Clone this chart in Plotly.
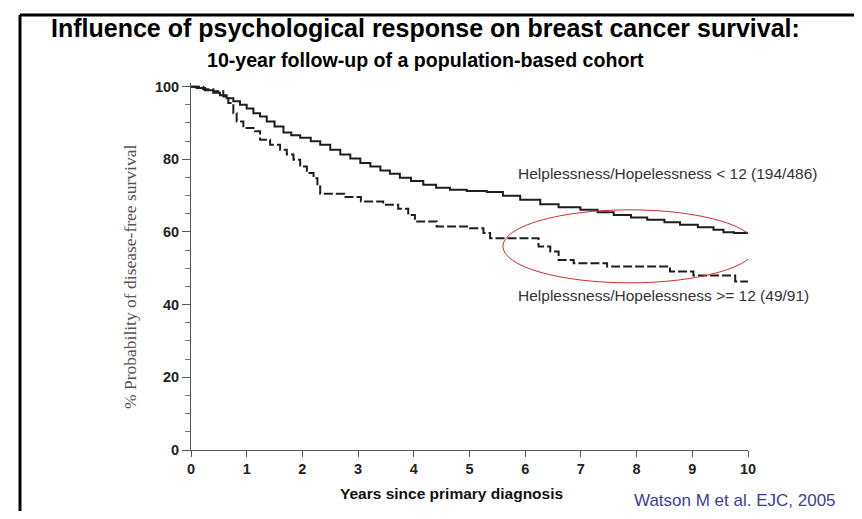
import plotly.graph_objects as go

# ---- data ----
low_years = [0, 0.1, 0.25, 0.40, 0.52, 0.64, 0.76, 0.88, 1.0, 1.12, 1.24, 1.36, 1.50, 1.66, 1.80,
             1.96, 2.15, 2.32, 2.50, 2.68, 2.86, 3.04, 3.22, 3.40, 3.57, 3.75, 3.95, 4.17, 4.40,
             4.65, 4.95, 5.31, 5.60, 5.91, 6.27, 6.60, 6.99, 7.30, 7.59, 7.90, 8.19, 8.50, 8.78,
             9.10, 9.38, 9.56, 9.75, 10.0]
low_surv = [100, 99.6, 99.0, 98.3, 97.6, 96.8, 96.0, 95.0, 94.0, 92.7, 91.8, 90.4, 89.0, 87.4, 86.6,
            85.9, 85.0, 84.0, 82.6, 81.3, 80.2, 79.0, 78.0, 76.9, 76.0, 74.9, 74.0, 73.0, 72.2,
            71.6, 71.3, 71.0, 70.0, 68.9, 67.6, 66.8, 66.1, 65.4, 64.7, 64.0, 63.4, 62.7, 62.0,
            61.3, 60.6, 59.9, 59.7, 59.7]

high_years = [0, 0.22, 0.40, 0.58, 0.67, 0.76, 0.82, 0.94, 1.15, 1.24, 1.42, 1.60, 1.72, 1.84,
              1.96, 2.08, 2.20, 2.27, 2.32, 2.75, 3.05, 3.45, 3.72, 3.90, 4.02, 4.41, 5.01, 5.25,
              5.37, 6.24, 6.45, 6.60, 6.87, 7.47, 8.60, 9.02, 9.77, 10.0]
high_surv = [100, 99.3, 98.7, 97.3, 95.5, 92.7, 90.4, 88.6, 87.7, 85.4, 84.0, 82.6, 81.3, 79.9,
             78.0, 76.2, 74.8, 72.5, 70.5, 69.6, 68.4, 67.5, 66.4, 64.7, 62.9, 61.5, 61.0, 59.7,
             58.3, 56.0, 54.6, 52.3, 51.4, 50.5, 49.1, 48.0, 46.4, 46.4]

x_ticks = [0, 1, 2, 3, 4, 5, 6, 7, 8, 9, 10]
y_ticks = [0, 20, 40, 60, 80, 100]

label_low = "Helplessness/Hopelessness < 12 (194/486)"
label_high = "Helplessness/Hopelessness >= 12 (49/91)"
title_text = "Influence of psychological response on breast cancer survival:"
subtitle_text = "10-year follow-up of a population-based cohort"
citation = "Watson M et al. EJC, 2005"

# ---- layout geometry (window pixels; page body has an 8px margin) ----
OFF = 8
W, H = 862 - 2 * OFF, 519 - 2 * OFF
L, R, T, B = 191, 748, 83, 450  # plot area in window pixels


def px(xp):
    return (xp - L) / (R - L)


def py(yp):
    return (B - yp) / (B - T)


fig = go.Figure()
fig.add_trace(go.Scatter(x=low_years, y=low_surv, mode="lines", line_shape="hv",
                         line=dict(color="#1e1e1e", width=2), showlegend=False))
fig.add_trace(go.Scatter(x=high_years, y=high_surv, mode="lines", line_shape="hv",
                         line=dict(color="#1e1e1e", width=2, dash="9px,3px"), showlegend=False))

axis_font = dict(family="Liberation Sans, Arial", size=14.5, color="#222222")

fig.update_layout(
    width=W, height=H,
    margin=dict(l=L - OFF, r=W - (R - OFF), t=T - OFF, b=H - (B - OFF), pad=0),
    paper_bgcolor="white", plot_bgcolor="white",
    xaxis=dict(range=[0, 10], tickvals=x_ticks, ticks="outside", ticklen=6, tickwidth=1,
               tickcolor="#555", showline=True, linecolor="#555", linewidth=1,
               showgrid=False, zeroline=False, tickfont=dict(axis_font, weight="bold"),
               fixedrange=True),
    yaxis=dict(range=[0, 101], tickvals=y_ticks, ticks="outside", ticklen=8, tickwidth=1,
               tickcolor="#555", showline=True, linecolor="#555", linewidth=1,
               showgrid=False, zeroline=False, tickfont=dict(axis_font, weight="bold"),
               minor=dict(dtick=5, ticks="outside", ticklen=5, tickcolor="#777"),
               fixedrange=True),
)

fig.add_shape(type="circle", xref="x", yref="y", x0=5.60, x1=10.15, y0=46.0, y1=66.1,
              line=dict(color="#d42a2a", width=1))

# frame lines (top and left)
fig.add_shape(type="line", xref="paper", yref="paper", x0=px(20), x1=px(870), y0=py(15), y1=py(15),
              line=dict(color="black", width=3))
fig.add_shape(type="line", xref="paper", yref="paper", x0=px(20), x1=px(20), y0=py(15), y1=py(530),
              line=dict(color="black", width=3))

ann = []
ann.append(dict(text=title_text, x=px(425), y=py(28), xref="paper", yref="paper",
                xanchor="center", yanchor="middle", showarrow=False,
                font=dict(family="Liberation Sans, Arial", size=25, color="black", weight="bold")))
ann.append(dict(text=subtitle_text, x=px(425), y=py(60), xref="paper", yref="paper",
                xanchor="center", yanchor="middle", showarrow=False,
                font=dict(family="Liberation Sans, Arial", size=19.6, color="black", weight="bold")))
ann.append(dict(text=label_low, x=px(516), y=py(173), xref="paper", yref="paper",
                xanchor="left", yanchor="middle", showarrow=False,
                font=dict(family="Liberation Sans, Arial", size=15.5, color="#333333")))
ann.append(dict(text=label_high, x=px(516), y=py(295), xref="paper", yref="paper",
                xanchor="left", yanchor="middle", showarrow=False,
                font=dict(family="Liberation Sans, Arial", size=15.5, color="#333333")))
ann.append(dict(text="% Probability of disease-free survival", x=px(130), y=py(277),
                xref="paper", yref="paper", xanchor="center", yanchor="middle",
                textangle=-90, showarrow=False,
                font=dict(family="Liberation Serif, Times New Roman", size=17.5, color="#555555")))
ann.append(dict(text="Years since primary diagnosis", x=px(451), y=py(493), xref="paper",
                yref="paper", xanchor="center", yanchor="middle", showarrow=False,
                font=dict(family="Liberation Sans, Arial", size=15.5, color="#111111", weight="bold")))
ann.append(dict(text=citation, x=px(838), y=py(500), xref="paper", yref="paper",
                xanchor="right", yanchor="middle", showarrow=False,
                font=dict(family="Liberation Sans, Arial", size=17, color="#3c3ca0")))
fig.update_layout(annotations=ann)

fig.write_html("out.html")
